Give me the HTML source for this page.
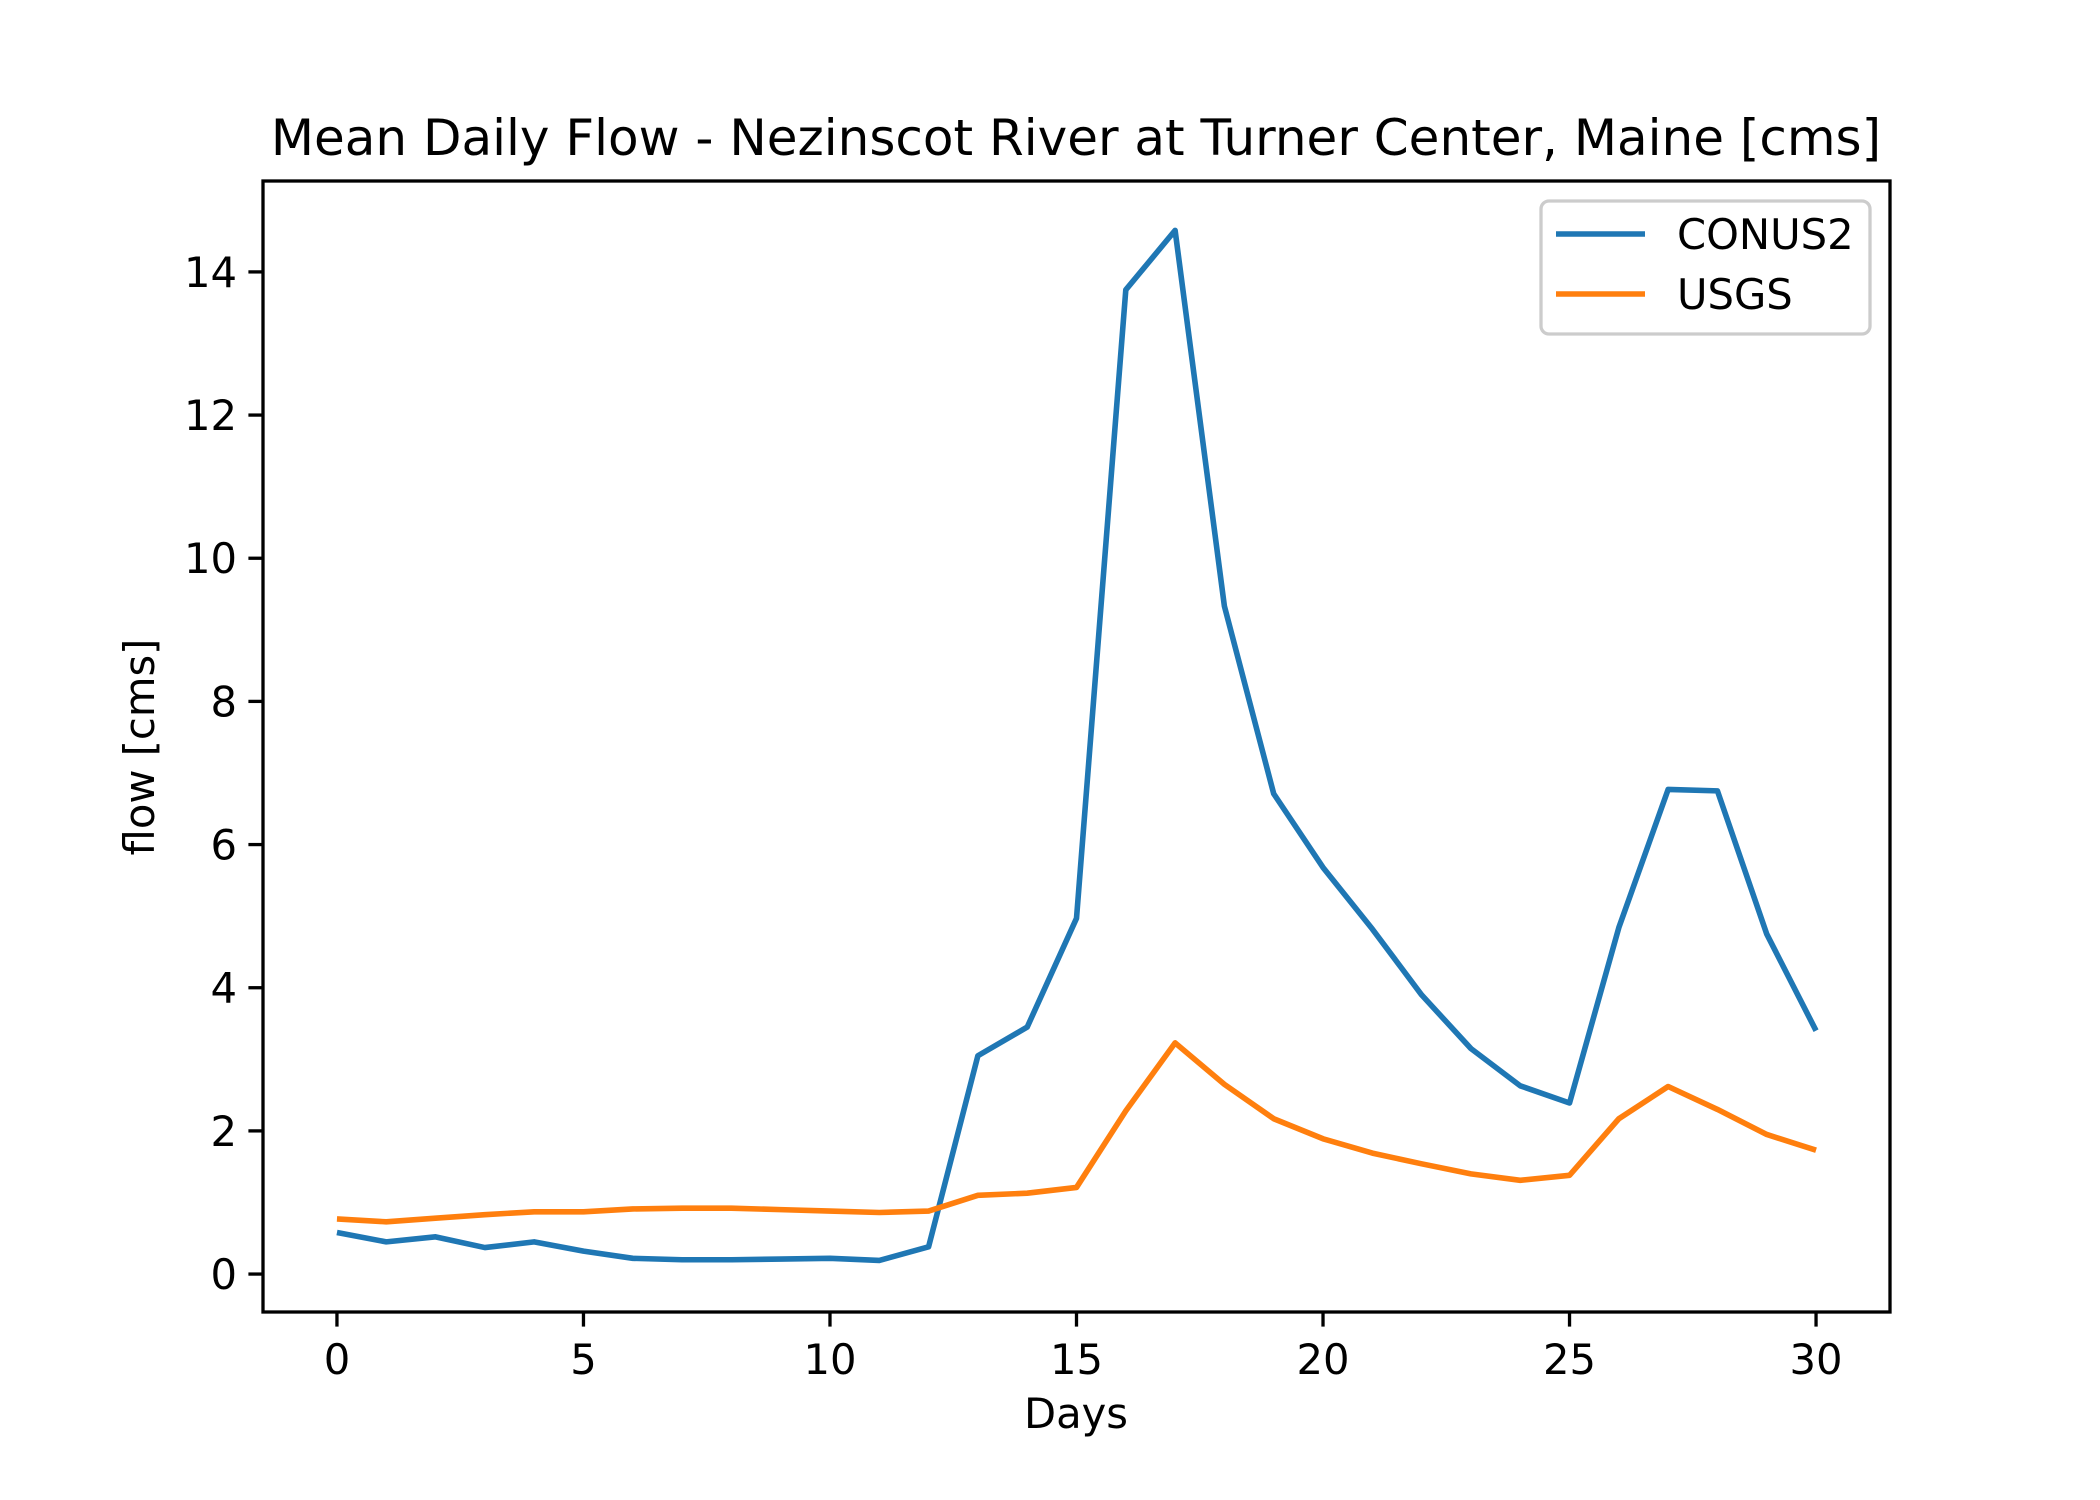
<!DOCTYPE html>
<html><head><meta charset="utf-8"><style>html,body{margin:0;padding:0;background:#fff}svg{display:block}text{font-family:"DejaVu Sans","Liberation Sans",sans-serif;fill:#000}</style></head>
<body>
<svg id="chart" width="2100" height="1500" viewBox="0 0 2100 1500" xmlns="http://www.w3.org/2000/svg">
<rect width="2100" height="1500" fill="#fff"/>
<text x="1076" y="155" font-size="50" text-anchor="middle">Mean Daily Flow - Nezinscot River at Turner Center, Maine [cms]</text>
<g id="series"></g>
<rect x="263" y="181" width="1627" height="1131" fill="none" stroke="#000" stroke-width="3.3"/>
<g id="axes"></g>
<text x="1076" y="1428" font-size="41.7" text-anchor="middle">Days</text>
<text x="0" y="0" font-size="41.7" text-anchor="middle" transform="translate(154,747) rotate(-90)">flow [cms]</text>
<g>
<rect x="1541" y="201" width="329" height="133" rx="8" fill="#fff" fill-opacity="0.8" stroke="#ccc" stroke-width="3.3"/>
<line x1="1556" y1="234" x2="1645" y2="234" stroke="#1f77b4" stroke-width="5.6"/>
<text x="1677" y="249" font-size="41.7">CONUS2</text>
<line x1="1556" y1="294" x2="1645" y2="294" stroke="#ff7f0e" stroke-width="5.6"/>
<text x="1677" y="309" font-size="41.7">USGS</text>
</g>
</svg>
<script>
const days = [0,1,2,3,4,5,6,7,8,9,10,11,12,13,14,15,16,17,18,19,20,21,22,23,24,25,26,27,28,29,30];
const conus2 = [0.58,0.45,0.52,0.37,0.45,0.32,0.22,0.2,0.2,0.21,0.22,0.19,0.38,3.05,3.45,4.97,13.75,14.58,9.33,6.71,5.68,4.82,3.9,3.15,2.63,2.39,4.84,6.77,6.75,4.75,3.4];
const usgs = [0.77,0.73,0.78,0.83,0.87,0.87,0.91,0.92,0.92,0.9,0.88,0.86,0.88,1.1,1.13,1.21,2.28,3.23,2.65,2.17,1.89,1.69,1.54,1.4,1.31,1.38,2.17,2.62,2.3,1.95,1.73];
const xTicks = [0,5,10,15,20,25,30];
const yTicks = [0,2,4,6,8,10,12,14];

const NS='http://www.w3.org/2000/svg';
const L=263,R=1890,T=181,B=1312;
const xMin=-1.5,xMax=31.5,yMin=-0.53,yMax=15.27;
function xs(v){return L+(v-xMin)/(xMax-xMin)*(R-L);}
function ys(v){return B-(v-yMin)/(yMax-yMin)*(B-T);}
const axes=document.getElementById('axes');
xTicks.forEach(t=>{
  const ln=document.createElementNS(NS,'line');
  ln.setAttribute('x1',xs(t));ln.setAttribute('x2',xs(t));ln.setAttribute('y1',B);ln.setAttribute('y2',B+14.6);
  ln.setAttribute('stroke','#000');ln.setAttribute('stroke-width','3.3');
  
  
  axes.appendChild(ln);
  const tx=document.createElementNS(NS,'text');
  tx.setAttribute('x',xs(t));tx.setAttribute('y',B+62);tx.setAttribute('font-size','41.7');tx.setAttribute('text-anchor','middle');
  tx.textContent=t;
  
  
  axes.appendChild(tx);
});
yTicks.forEach(t=>{
  const ln=document.createElementNS(NS,'line');
  ln.setAttribute('x1',L-14.6);ln.setAttribute('x2',L);ln.setAttribute('y1',ys(t));ln.setAttribute('y2',ys(t));
  ln.setAttribute('stroke','#000');ln.setAttribute('stroke-width','3.3');
  
  
  axes.appendChild(ln);
  const tx=document.createElementNS(NS,'text');
  tx.setAttribute('x',L-26);tx.setAttribute('y',ys(t)+15);tx.setAttribute('font-size','41.7');tx.setAttribute('text-anchor','end');
  tx.textContent=t;
  
  
  axes.appendChild(tx);
});
const series=document.getElementById('series');
function drawLine(vals,color,name){
  const p=document.createElementNS(NS,'polyline');
  p.setAttribute('points',vals.map((v,i)=>xs(days[i])+','+ys(v)).join(' '));
  p.setAttribute('fill','none');p.setAttribute('stroke',color);p.setAttribute('stroke-width','5.6');
  p.setAttribute('stroke-linejoin','round');
  
  
  series.appendChild(p);
}
drawLine(conus2,'#1f77b4','conus2-line');
drawLine(usgs,'#ff7f0e','usgs-line');
</script>
</body></html>
